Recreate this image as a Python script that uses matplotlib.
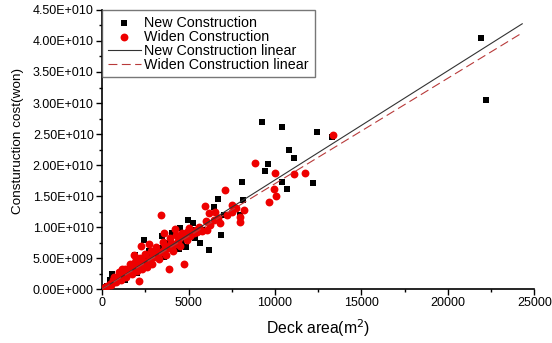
import matplotlib
matplotlib.use('Agg')
import matplotlib.pyplot as plt
import numpy as np
from matplotlib.ticker import MultipleLocator, FuncFormatter

plt.rcParams['font.family'] = ['Liberation Sans', 'DejaVu Sans']

# deck area (m2) and construction cost (1e10 won)
new_area = [21930, 22180, 9260, 10420, 12410, 13300, 10800, 11090, 9580, 9440,
            10380, 12170, 10720, 8100, 8170, 6690, 6500, 7040, 7960, 6900,
            4960, 5240, 5680, 6160, 4860, 4420, 4370, 4040, 3490, 3750,
            3270, 2400, 2730, 1910, 1720, 1330, 1040, 460, 300, 500,
            700, 800, 900, 1100, 1200, 1400, 1500, 1600, 1800, 2000,
            2100, 2200, 2300, 2500, 2600, 2800, 3000, 3100, 3300, 3500,
            3700, 3900, 4100, 4600, 5000, 5400, 5800, 600, 1300, 2000,
            200, 150, 4500, 5200, 3600]
new_cost = [4.04, 3.05, 2.69, 2.61, 2.53, 2.45, 2.24, 2.11, 2.02, 1.91,
            1.73, 1.71, 1.61, 1.73, 1.43, 1.45, 1.33, 1.20, 1.19, 0.87,
            1.12, 1.06, 0.74, 0.63, 0.68, 0.65, 0.85, 0.90, 0.86, 0.74,
            0.66, 0.80, 0.62, 0.55, 0.41, 0.33, 0.23, 0.15, 0.05, 0.08,
            0.12, 0.18, 0.20, 0.18, 0.27, 0.22, 0.28, 0.30, 0.33, 0.36,
            0.42, 0.38, 0.47, 0.45, 0.52, 0.50, 0.55, 0.62, 0.58, 0.60,
            0.68, 0.64, 0.72, 0.78, 0.88, 0.82, 0.95, 0.25, 0.15, 0.26,
            0.03, 0.02, 0.98, 0.96, 0.52]

widen_area = [13360, 8820, 9980, 11100, 11720, 9940, 10070, 9650, 7100, 7520,
              7770, 8200, 7960, 5930, 6170, 6510, 6840, 6460, 6260, 6070,
              5780, 4910, 4720, 3380, 3560, 4190, 4760, 3850, 2110, 1820,
              2240, 1940, 5300, 5500, 5100, 4400, 4200, 4000, 3800, 3600,
              3400, 3200, 3000, 2850, 2700, 2550, 2400, 2250, 2100, 1950,
              1800, 1650, 1500, 1350, 1200, 1050, 900, 750, 600, 450,
              300, 150, 2600, 2300, 2000, 1700, 1400, 1100, 800, 500,
              2900, 3300, 3700, 4100, 4500, 4900, 2200, 2500, 2800, 1600,
              1300, 1000, 700, 3100, 2700, 5600, 5000, 4600, 6000, 6700,
              7200, 7500, 8000, 3900, 4300, 1900, 1150, 3500, 2350, 2650,
              2950, 3250, 1750, 1450, 950, 650, 3650, 4050, 4450, 5450]
widen_cost = [2.48, 2.04, 1.87, 1.85, 1.87, 1.62, 1.50, 1.40, 1.59, 1.36,
              1.31, 1.27, 1.09, 1.34, 1.22, 1.25, 1.06, 1.11, 1.03, 0.96,
              0.94, 0.92, 0.87, 1.19, 0.90, 0.97, 0.41, 0.32, 0.13, 0.55,
              0.70, 0.50, 0.90, 0.92, 0.85, 0.78, 0.72, 0.74, 0.66, 0.63,
              0.60, 0.56, 0.52, 0.50, 0.47, 0.44, 0.42, 0.40, 0.37, 0.34,
              0.31, 0.29, 0.27, 0.24, 0.22, 0.19, 0.16, 0.13, 0.10, 0.08,
              0.05, 0.03, 0.36, 0.32, 0.30, 0.25, 0.20, 0.15, 0.11, 0.06,
              0.40, 0.48, 0.55, 0.62, 0.70, 0.80, 0.50, 0.56, 0.62, 0.40,
              0.33, 0.27, 0.20, 0.68, 0.72, 1.00, 0.98, 0.90, 1.10, 1.15,
              1.20, 1.25, 1.17, 0.82, 0.88, 0.44, 0.32, 0.76, 0.45, 0.41,
              0.57, 0.53, 0.35, 0.30, 0.21, 0.14, 0.70, 0.68, 0.82, 0.95]

# linear fits (cost per m2) and the x extent they are drawn over
new_slope = 1.76e6
widen_slope = 1.70e6
fit_x = [0, 24300]

new_cost = np.array(new_cost) * 1e10
widen_cost = np.array(widen_cost) * 1e10

fig = plt.figure(figsize=(5.52, 3.43), dpi=100)
ax = fig.add_axes([0.185, 0.157, 0.783, 0.814])

ax.scatter(new_area, new_cost, marker='s', s=25, color='black', linewidths=0,
           label='New Construction', zorder=3)
ax.scatter(widen_area, widen_cost, marker='o', s=32, color='#ee0000', linewidths=0,
           label='Widen Construction', zorder=3)
fx = np.array(fit_x)
ax.plot(fx, new_slope * fx, color='#333333', lw=0.8, label='New Construction linear', zorder=4)
ax.plot(fx, widen_slope * fx, color='#b83a3a', lw=0.8, dashes=(8, 4),
        label='Widen Construction linear', zorder=4)

ax.set_xlim(0, 25000)
ax.set_ylim(0, 4.5e10)
ax.xaxis.set_major_locator(MultipleLocator(5000))
ax.xaxis.set_minor_locator(MultipleLocator(2500))
ax.yaxis.set_major_locator(MultipleLocator(0.5e10))
ax.yaxis.set_minor_locator(MultipleLocator(0.25e10))


def sci(v, pos):
    if v == 0:
        return '0.00E+000'
    e = int(np.floor(np.log10(abs(v))))
    return '%.2fE+%03d' % (v / 10 ** e, e)


ax.yaxis.set_major_formatter(FuncFormatter(sci))
ax.tick_params(which='major', direction='out', length=4, width=1, labelsize=9, pad=2)
ax.tick_params(which='minor', direction='out', length=2.5, width=1)
for side in ['top', 'right']:
    ax.spines[side].set_visible(False)
for side in ['left', 'bottom']:
    ax.spines[side].set_linewidth(1.2)

ax.set_ylabel('Consturuction cost(won)', fontsize=9.7)
ax.set_xlabel('Deck area(m$^2$)', fontsize=11.3)
ax.xaxis.set_label_coords(0.5, -0.1)
ax.yaxis.set_label_coords(-0.18, 0.53)

leg = ax.legend(loc='upper left', bbox_to_anchor=(0.0, 1.0), borderaxespad=0,
                fontsize=10.3, frameon=True, fancybox=False, labelspacing=0.0,
                handlelength=2.3, handletextpad=0.25, borderpad=0.4, scatterpoints=1)
leg.get_frame().set_edgecolor('#555555')
leg.get_frame().set_linewidth(1.0)

fig.savefig('out.png', dpi=100)
